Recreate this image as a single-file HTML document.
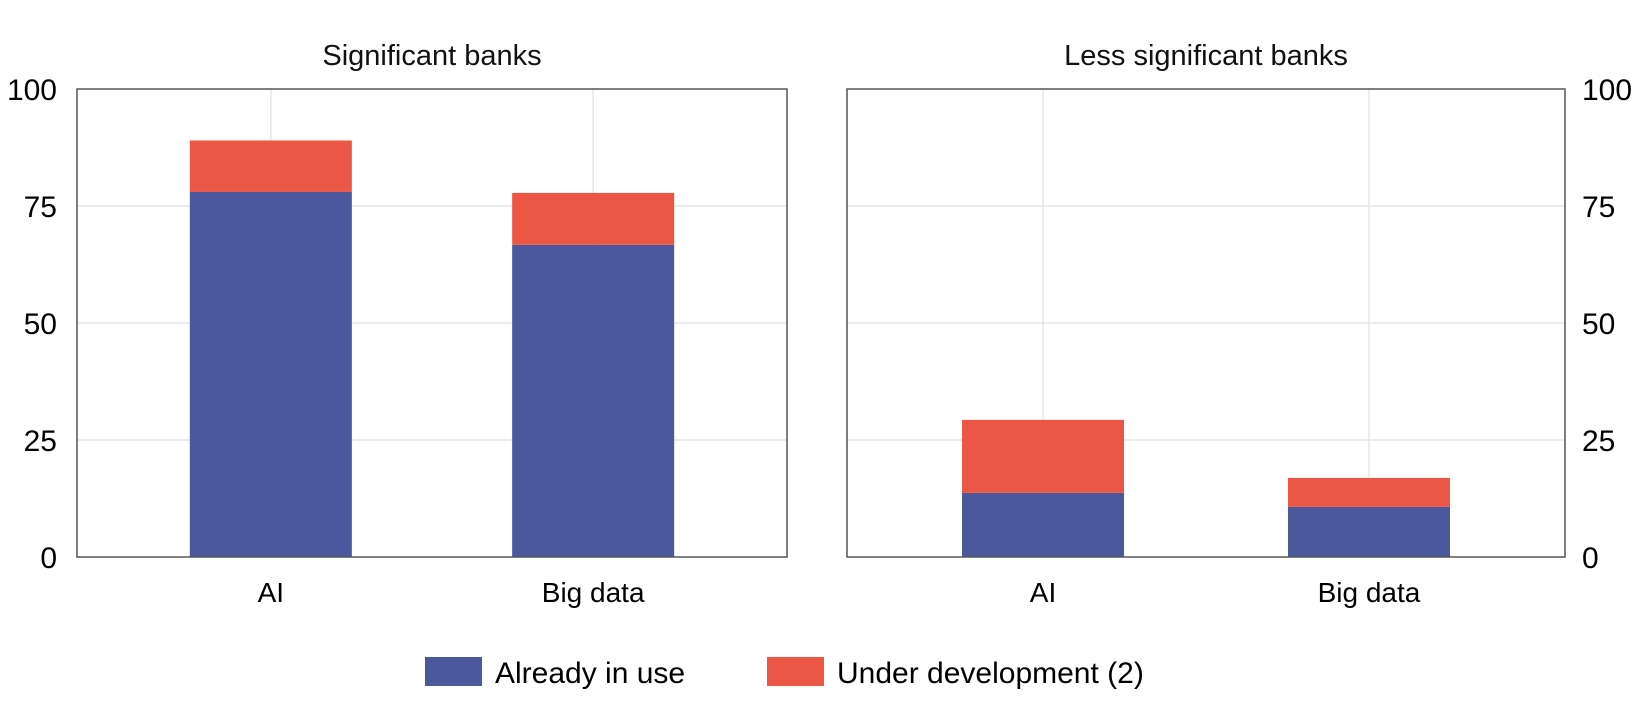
<!DOCTYPE html>
<html><head><meta charset="utf-8"><style>
html,body{margin:0;padding:0;background:#fff;}
svg{display:block;font-family:"Liberation Sans",Arial,sans-serif;}
</style></head><body>
<svg id="chart" width="1650" height="708" viewBox="0 0 1650 708" xmlns="http://www.w3.org/2000/svg"></svg>
<script>
const categories = ["AI", "Big data"];
const panelTitles = ["Significant banks", "Less significant banks"];
const inUseSig = [78, 66.7];
const devSig = [11, 11.1];
const inUseLess = [13.7, 10.7];
const devLess = [15.6, 6.2];
const yTicks = [0, 25, 50, 75, 100];
const seriesNames = ["Already in use", "Under development (2)"];
const colors = ["#4b589c", "#ec5745"];

const svg = document.getElementById('chart');
const NS = 'http://www.w3.org/2000/svg';
function mk(tag, attrs, parent) {
  const e = document.createElementNS(NS, tag);
  for (const k in attrs) e.setAttribute(k, attrs[k]);
  (parent || svg).appendChild(e);
  return e;
}
const top0 = 89, bot0 = 557;
function yScale(v) { return bot0 - (v / 100) * (bot0 - top0); }

const panels = [
  {x0: 77, x1: 787, inUse: inUseSig, dev: devSig, tickSide: 'left'},
  {x0: 847, x1: 1565, inUse: inUseLess, dev: devLess, tickSide: 'right'}
];
panels.forEach((p, pi) => {
  const g = mk('g', {});
  
  
  const w = p.x1 - p.x0;
  function xScale(i) { return p.x0 + w * (0.273 + i * 0.454); }
  // grid
  yTicks.forEach(t => {
    if (t === 0 || t === 100) return;
    const l = mk('line', {x1: p.x0, x2: p.x1, y1: yScale(t), y2: yScale(t), stroke: '#e6e6e6', 'stroke-width': 1.5}, g);
    
    
  });
  categories.forEach((c, i) => {
    const l = mk('line', {x1: xScale(i), x2: xScale(i), y1: top0, y2: bot0, stroke: '#e6e6e6', 'stroke-width': 1.5}, g);
    
    
  });
  const bw = 162;
  categories.forEach((c, i) => {
    const cx = xScale(i);
    const b1 = mk('rect', {x: cx - bw/2, y: yScale(p.inUse[i]), width: bw, height: yScale(0) - yScale(p.inUse[i]), fill: colors[0]}, g);
    
    
    const top = p.inUse[i] + p.dev[i];
    const b2 = mk('rect', {x: cx - bw/2, y: yScale(top), width: bw, height: yScale(p.inUse[i]) - yScale(top), fill: colors[1]}, g);
    
    
    const lbl = mk('text', {x: cx, y: 602, 'text-anchor': 'middle', 'font-size': 28, fill: '#000'}, g);
    lbl.textContent = c;
    
    
  });
  const fr = mk('rect', {x: p.x0, y: top0, width: w, height: bot0 - top0, fill: 'none', stroke: '#555', 'stroke-width': 1.5}, g);
  
  
  const tt = mk('text', {x: (p.x0 + p.x1) / 2, y: 65, 'text-anchor': 'middle', 'font-size': 29, fill: '#111'}, g);
  tt.textContent = panelTitles[pi];
  
  
  yTicks.forEach(t => {
    const tx = p.tickSide === 'left'
      ? mk('text', {x: 57, y: yScale(t) + 11, 'text-anchor': 'end', 'font-size': 30, fill: '#000'}, g)
      : mk('text', {x: 1582, y: yScale(t) + 11, 'text-anchor': 'start', 'font-size': 30, fill: '#000'}, g);
    tx.textContent = t;
    
    
  });
});
// legend
const legX = [425, 767];
seriesNames.forEach((s, i) => {
  const g = mk('g', {});
  
  
  mk('rect', {x: legX[i], y: 657, width: 57, height: 29, fill: colors[i]}, g);
  const t = mk('text', {x: legX[i] + 70, y: 683, 'font-size': 30, fill: '#000'}, g);
  t.textContent = s;
});
</script>
</body></html>
